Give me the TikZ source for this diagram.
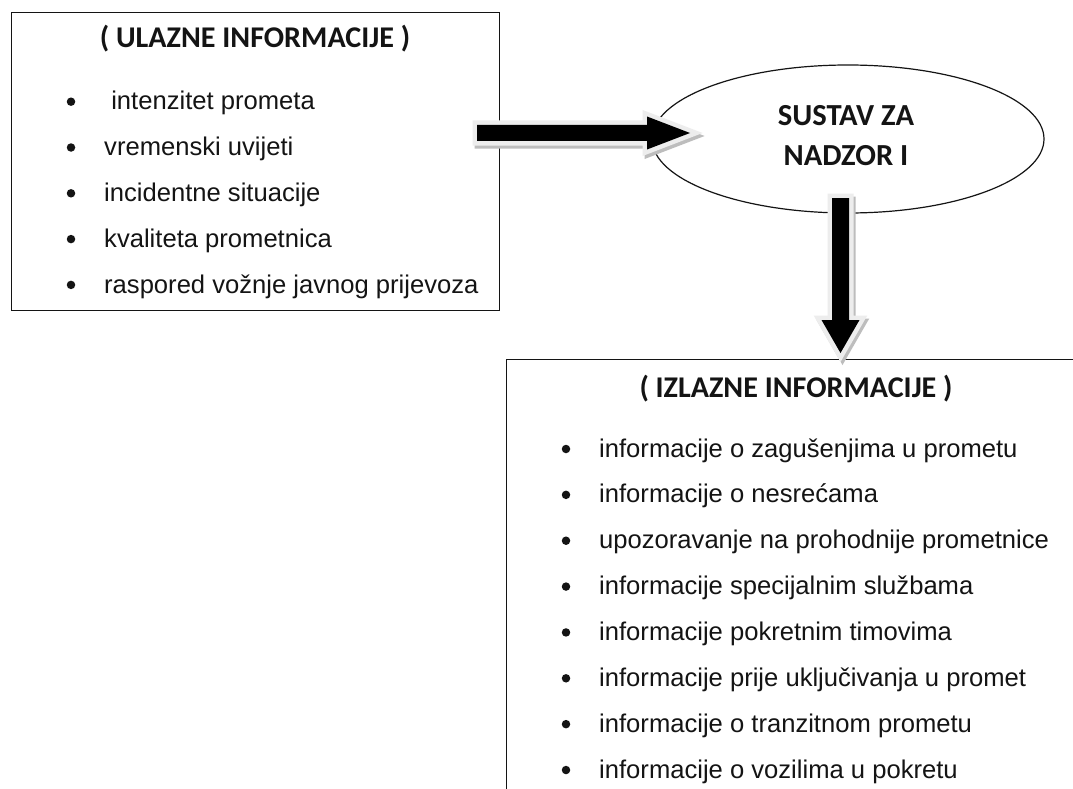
\documentclass[tikz,border=0pt]{standalone}
\usepackage{fontspec}
\setmainfont{Liberation Sans}
\newfontfamily\calfont{Carlito}
\usetikzlibrary{shapes.geometric,calc}
\definecolor{ink}{HTML}{141414}
\definecolor{halo}{HTML}{EDEDED}
\definecolor{shade}{HTML}{BDBDBD}
\tikzset{
  frame/.style={draw=ink, line width=1.3pt, inner sep=0pt},
  titletext/.style={anchor=base, font=\calfont\bfseries\fontsize{30.1}{36}\selectfont, text=ink, inner sep=0pt},
  systext/.style={anchor=base, font=\calfont\bfseries\fontsize{30.6}{36}\selectfont, text=ink, inner sep=0pt},
  itemtext/.style={anchor=base west, font=\fontsize{25.6}{30}\selectfont, text=ink, inner sep=0pt},
  dot/.style={circle, fill=ink, inner sep=0pt, minimum size=8.5pt},
  arrowshade/.style={fill=shade, draw=shade, line width=9pt, line join=miter},
  arrowhalo/.style={fill=halo, draw=halo, line width=9pt, line join=miter},
  arrowcore/.style={fill=black},
}
\begin{document}
\begin{tikzpicture}[x=1pt,y=-1pt]
\path[use as bounding box, clip] (0,0) rectangle (1073,789);
\fill[white] (0,0) rectangle (1073,789);

% boxes and ellipse
\node[frame, anchor=north west, minimum width=488pt, minimum height=298pt] (inbox) at (11,12) {};
\node[frame, anchor=north west, minimum width=620pt, minimum height=480pt] (outbox) at (506,359) {};
\node[draw=ink, line width=1.2pt, ellipse, minimum width=392pt, minimum height=148pt, inner sep=0pt] (sys) at (848,139) {};

% titles
\node[titletext] (intitle) at (255,48) {( ULAZNE INFORMACIJE )};
\node[titletext] (outtitle) at (796,397) {( IZLAZNE INFORMACIJE )};
\node[systext] (sysA) at (846,125) {SUSTAV ZA};
\node[systext] (sysB) at (846,165) {NADZOR I};

% input items
\foreach \t [count=\i from 0] in {{\ intenzitet prometa},{vremenski uvijeti},{incidentne situacije},{kvaliteta prometnica},{raspored vožnje javnog prijevoza}}{
  \node[dot] (ib\i) at (71,{101.7+45.8*\i}) {};
  \node[itemtext] (it\i) at (104,{110+45.8*\i}) {\t};
}

% output items
\foreach \t [count=\i from 0] in {{informacije o zagušenjima u prometu},{informacije o nesrećama},{upozoravanje na prohodnije prometnice},{informacije specijalnim službama},{informacije pokretnim timovima},{informacije prije uključivanja u promet},{informacije o tranzitnom prometu},{informacije o vozilima u pokretu}}{
  \node[dot] (ob\i) at (566,{449+45.86*\i}) {};
  \node[itemtext] (ot\i) at (599,{457+45.86*\i}) {\t};
}

% arrows
\coordinate (r0) at (477,133);
\coordinate (r1) at (690,133);
\coordinate (d0) at (840.5,198);
\coordinate (d1) at (840.5,353);
\def\rpath{($(r0)+(0,-8)$) -- ($(r1)+(-43,-8)$) -- ($(r1)+(-43,-16.5)$) -- (r1) -- ($(r1)+(-43,16.5)$) -- ($(r1)+(-43,8)$) -- ($(r0)+(0,8)$) -- cycle}
\def\dpath{($(d0)+(-8.5,0)$) -- ($(d1)+(-8.5,-33)$) -- ($(d1)+(-19,-33)$) -- (d1) -- ($(d1)+(19,-33)$) -- ($(d1)+(8.5,-33)$) -- ($(d0)+(8.5,0)$) -- cycle}
\begin{scope}[transform canvas={shift={(2pt,-3pt)}}]
  \path[arrowshade] \rpath;
  \path[arrowshade] \dpath;
\end{scope}
\path[arrowhalo] \rpath;
\path[arrowhalo] \dpath;
\path[arrowcore] \rpath;
\path[arrowcore] \dpath;
\end{tikzpicture}
\end{document}
